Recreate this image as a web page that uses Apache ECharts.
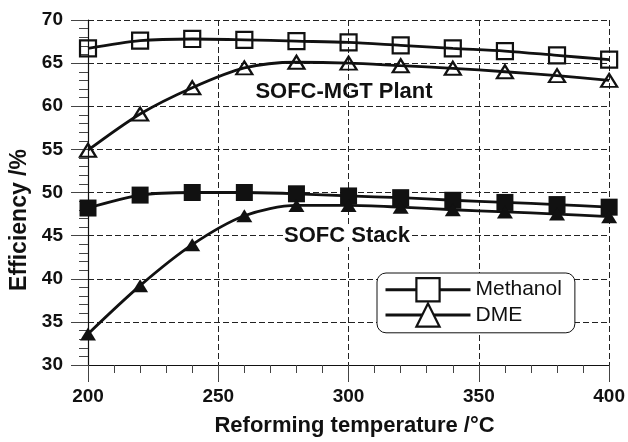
<!DOCTYPE html>
<html>
<head>
<meta charset="utf-8">
<script src="https://cdn.jsdelivr.net/npm/echarts@6/dist/echarts.min.js"></script>
<style>
  html, body { margin: 0; padding: 0; background: #fff; }
  #chart { width: 628px; height: 442px; }
</style>
</head>
<body>
<div id="chart"></div>
<script>
// 重整温度 /°C
var temps = [200, 220, 240, 260, 280, 300, 320, 340, 360, 380, 400]
// SOFC-MGT plant
var methanolPlant = [66.7, 67.6, 67.8, 67.7, 67.55, 67.4, 67.05, 66.7, 66.4, 65.9, 65.4]
var dmePlant = [54.9, 59.1, 62.15, 64.45, 65.1, 65.0, 64.7, 64.4, 64.0, 63.55, 63.0]
// SOFC stack
var methanolStack = [48.2, 49.7, 50.0, 50.0, 49.85, 49.6, 49.4, 49.1, 48.85, 48.6, 48.3]
var dmeStack = [33.6, 39.2, 43.95, 47.3, 48.5, 48.5, 48.3, 48.0, 47.75, 47.5, 47.2]

var font = 'Liberation Sans, Arial, sans-serif'

function pairs (ys) {
  var out = []
  for (var i = 0; i < temps.length; i++) {
    out.push([temps[i], ys[i]])
  }
  return out
}

function lineSeries (name, ys, symbol, size, filled) {
  return {
    name: name,
    type: 'line',
    smooth: 0.3,
    data: pairs(ys),
    symbol: symbol,
    symbolSize: size,
    showAllSymbol: true,
    lineStyle: { color: '#111', width: 2.8 },
    itemStyle: filled
      ? { color: '#111', borderWidth: 0 }
      : { color: 'transparent', borderColor: '#111', borderWidth: 2.2 },
    z: 3
  }
}

var myChart = echarts.init(document.getElementById('chart'))
myChart.setOption({
  animation: false,
  grid: { left: 88, right: 18, top: 20, bottom: 74 },
  legend: {
    data: ['Methanol', 'DME'],
    orient: 'vertical',
    left: 377,
    top: 273,
    padding: [4, 13, 5, 7],
    itemWidth: 85,
    itemHeight: 29,
    itemGap: 0,
    borderColor: '#111',
    borderWidth: 1,
    borderRadius: 9,
    backgroundColor: '#fff',
    lineStyle: { width: 3, color: '#111' },
    itemStyle: { color: '#fff', borderColor: '#111', borderWidth: 2.2 },
    textStyle: { fontFamily: font, fontSize: 21, color: '#111' }
  },
  xAxis: {
    type: 'value',
    min: 200,
    max: 400,
    interval: 50,
    name: 'Reforming temperature /°C',
    nameLocation: 'middle',
    nameGap: 50,
    nameTextStyle: { fontFamily: font, fontSize: 22, fontWeight: 'bold', color: '#111', padding: [0, 0, 0, 12] },
    axisLine: { lineStyle: { color: '#111', width: 1.2 } },
    axisTick: { show: true, length: 17, lineStyle: { color: '#444' } },
    minorTick: { show: true, splitNumber: 5, length: 8, lineStyle: { color: '#444' } },
    axisLabel: { margin: 22, fontFamily: font, fontSize: 19, fontWeight: 'bold', color: '#111' },
    splitLine: { show: true, lineStyle: { color: '#222', type: [6, 3], width: 1 } }
  },
  yAxis: {
    type: 'value',
    min: 30,
    max: 70,
    interval: 5,
    axisLine: { show: true, lineStyle: { color: '#111', width: 1.2 } },
    axisTick: { show: true, length: 17, lineStyle: { color: '#444' } },
    minorTick: { show: true, splitNumber: 5, length: 9, lineStyle: { color: '#444' } },
    axisLabel: { margin: 25, fontFamily: font, fontSize: 19, fontWeight: 'bold', color: '#111' },
    splitLine: { show: true, lineStyle: { color: '#222', type: [6, 3], width: 1 } }
  },
  graphic: [
    {
      type: 'text',
      x: 20,
      y: 220,
      rotation: Math.PI / 2,
      style: {
        text: 'Efficiency /%',
        fontFamily: font,
        fontSize: 23,
        fontWeight: 'bold',
        fill: '#111',
        align: 'center',
        verticalAlign: 'middle'
      }
    },
    {
      type: 'text',
      x: 344,
      y: 92,
      z: 10,
      style: {
        text: 'SOFC-MGT Plant',
        fontFamily: font,
        fontSize: 22,
        fontWeight: 'bold',
        fill: '#111',
        align: 'center',
        verticalAlign: 'middle'
      }
    },
    {
      type: 'text',
      x: 347,
      y: 236,
      z: 10,
      style: {
        text: 'SOFC Stack',
        fontFamily: font,
        fontSize: 22,
        fontWeight: 'bold',
        fill: '#111',
        backgroundColor: '#fff',
        align: 'center',
        verticalAlign: 'middle'
      }
    }
  ],
  series: [
    lineSeries('Methanol', methanolPlant, 'rect', 16, false),
    lineSeries('DME', dmePlant, 'triangle', [16, 13], false),
    lineSeries('Methanol stack', methanolStack, 'rect', 17, true),
    lineSeries('DME stack', dmeStack, 'triangle', [16, 13], true)
  ]
}, true)
</script>
</body>
</html>
